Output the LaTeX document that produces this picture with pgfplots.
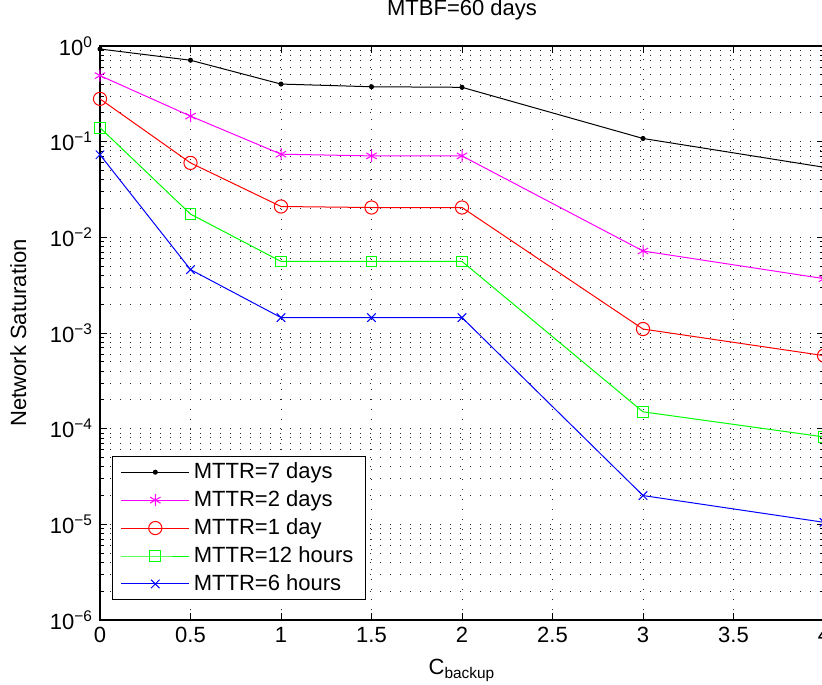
\documentclass[border=0pt]{standalone}
\usepackage{fontspec}
\setmainfont{Liberation Sans}
\usepackage{pgfplots}
\pgfplotsset{compat=1.18}
\definecolor{mlmag}{RGB}{255,0,255}
\definecolor{mlred}{RGB}{255,0,0}
\definecolor{mlgreen}{RGB}{0,255,0}
\definecolor{mlblue}{RGB}{0,0,255}
\begin{document}
\begin{tikzpicture}
\useasboundingbox (-50pt,-32pt) rectangle (361pt,310pt);
\begin{axis}[
    at={(0,0)}, anchor=south west,
    scale only axis, width=362pt, height=287pt,
    ymode=log,
    xmin=0, xmax=4, ymin=1e-6, ymax=1,
    xtick={0,0.5,...,4},
    ytick={1e-6,1e-5,1e-4,1e-3,1e-2,1e-1,1},
    yticklabels={10\textsuperscript{−6},10\textsuperscript{−5},10\textsuperscript{−4},10\textsuperscript{−3},10\textsuperscript{−2},10\textsuperscript{−1},10\textsuperscript{0}},
    /pgf/number format/assume math mode=true,
    font=\fontsize{11}{13}\selectfont,
    ticklabel style={font=\fontsize{11}{13}\selectfont},
    tick align=inside,
    major tick length=3.5pt, minor tick length=2pt,
    tick style={black, line width=0.4pt},
    axis line style={line width=0.7pt},
    xmajorgrids, ymajorgrids, yminorgrids,
    grid style={black!85, line width=0.5pt, dash pattern=on 0.5pt off 4.5pt},
    minor grid style={black!85, line width=0.5pt, dash pattern=on 0.5pt off 4.5pt},
    title={MTBF=60 days},
    title style={at={(axis description cs:0.5,1.033)}, anchor=base, yshift=0pt},
    xlabel={C\textsubscript{backup}},
    xlabel style={at={(axis description cs:0.5,-0.088)}, anchor=center},
    ylabel={Network Saturation},
    ylabel style={at={(axis description cs:-0.113,0.5)}, anchor=center, rotate=0},
    legend style={at={(axis description cs:0.017,0.035)}, anchor=south west,
        draw=black, line width=0.5pt, fill=white, row sep=0.5pt,
        font=\fontsize{11}{13}\selectfont, inner xsep=4pt, inner ysep=1pt},
    legend cell align={left},
    legend image code/.code={\draw[mark repeat=2,mark phase=2] plot coordinates {(0pt,0pt) (17pt,0pt) (34pt,0pt)};},
    every axis plot/.append style={line width=0.5pt},
]
\addplot[black, mark=*, mark size=1pt] coordinates {(0,0.93) (0.5,0.71) (1,0.40) (1.5,0.375) (2,0.37) (3,0.108) (4,0.054)};
\addlegendentry{MTTR=7 days}
\addplot[mlmag, mark=asterisk, mark size=3pt] coordinates {(0,0.49) (0.5,0.185) (1,0.074) (1.5,0.071) (2,0.071) (3,0.0072) (4,0.0037)};
\addlegendentry{MTTR=2 days}
\addplot[mlred, mark=o, mark size=3.3pt] coordinates {(0,0.28) (0.5,0.060) (1,0.021) (1.5,0.0205) (2,0.0205) (3,0.0011) (4,0.00058)};
\addlegendentry{MTTR=1 day}
\addplot[mlgreen, mark=square, mark size=2.7pt] coordinates {(0,0.14) (0.5,0.0175) (1,0.0056) (1.5,0.0056) (2,0.0056) (3,0.00015) (4,0.000082)};
\addlegendentry{MTTR=12 hours}
\addplot[mlblue, mark=x, mark size=3pt] coordinates {(0,0.073) (0.5,0.0046) (1,0.00145) (1.5,0.00145) (2,0.00145) (3,0.000020) (4,0.0000105)};
\addlegendentry{MTTR=6 hours}
\end{axis}
\end{tikzpicture}
\end{document}
